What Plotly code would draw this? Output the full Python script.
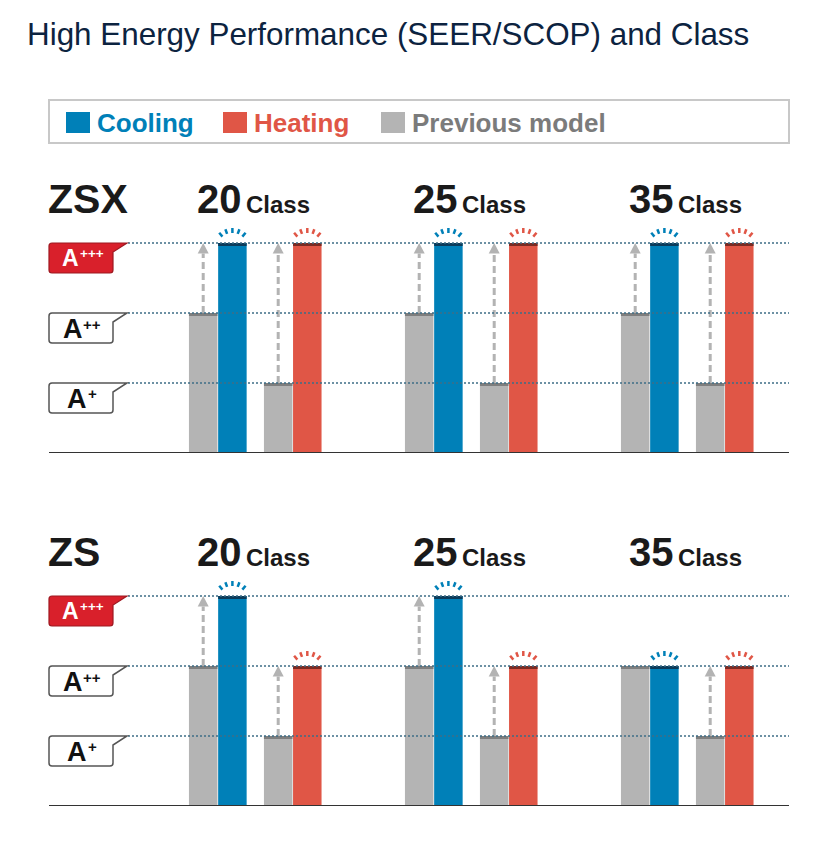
import math
import plotly.graph_objects as go

# ---------------- data ----------------
title_text = "High Energy Performance (SEER/SCOP) and Class"
legend_labels = ["Cooling", "Heating", "Previous model"]
models = ["ZSX", "ZS"]
classes = ["20", "25", "35"]
class_word = "Class"
level_labels = ["A+", "A++", "A+++"]
level_values = [1, 2, 3]

zsx_cool_prev = [2, 2, 2]
zsx_cool = [3, 3, 3]
zsx_heat_prev = [1, 1, 1]
zsx_heat = [3, 3, 3]

zs_cool_prev = [2, 2, 2]
zs_cool = [3, 3, 2]
zs_heat_prev = [1, 1, 1]
zs_heat = [2, 2, 2]

panels = [
    (zsx_cool_prev, zsx_cool, zsx_heat_prev, zsx_heat),
    (zs_cool_prev, zs_cool, zs_heat_prev, zs_heat),
]

# ---------------- style / layout ----------------
W, H = 818, 856
FONT = "Arial, 'Liberation Sans', Helvetica, sans-serif"
BLUE, RED, GRAY = "#0080b8", "#e05646", "#b4b4b4"
BLUE_CAP, RED_CAP, GRAY_CAP = "#0b3b5a", "#7a2b23", "#7e7e7e"
DOT = "#3e6e86"
ARROW = "#b3b3b3"
TITLE_C = "#0c2340"

PXX = 216.0         # px per x unit (group spacing)
X0 = 255.3          # px of first group centre
PXY = 70.0          # px per rating level
BASE_PX = [453, 806]
YMAX = 4.0
BW = 28.5 / PXX
CAP = 3.0 / PXY
OFF = [-52.1 / PXX, -22.9 / PXX, 22.9 / PXX, 52.0 / PXX]

# badge text placement per level (A x-centre, A size, A y-offset, plus left x, plus size, plus y-offset)
BADGE_TXT = {
    1: (76.5, 27, 15.8, 86.8, 15, 10.8),
    2: (72.6, 27, 16.0, 81.6, 15, 11.0),
    3: (70.6, 23, 15.3, 78.6, 13.5, 10.8),
}


def px_x(p):
    return p / W


def px_y(p):
    return 1 - p / H


fig = go.Figure()
shapes = []
annotations = []

yaxes = ["y", "y2"]
for pi, (cprev, cool, hprev, heat) in enumerate(panels):
    ya = yaxes[pi]
    series = [
        (cprev, OFF[0], GRAY, GRAY_CAP),
        (cool, OFF[1], BLUE, BLUE_CAP),
        (hprev, OFF[2], GRAY, GRAY_CAP),
        (heat, OFF[3], RED, RED_CAP),
    ]
    for vals, off, col, capc in series:
        xs = [g + off for g in range(len(classes))]
        fig.add_trace(go.Bar(x=xs, y=vals, width=BW, marker_color=col,
                             marker_line_width=0, xaxis="x", yaxis=ya,
                             showlegend=False, hoverinfo="skip"))
        fig.add_trace(go.Bar(x=xs, y=[CAP] * len(vals),
                             base=[v - CAP for v in vals], width=BW,
                             marker_color=capc, marker_line_width=0,
                             xaxis="x", yaxis=ya, showlegend=False,
                             hoverinfo="skip"))

    # dashed improvement arrows
    head_h = 10.5 / PXY
    head_w = 5.5 / PXX
    for prev, new, off in [(cprev, cool, OFF[0]), (hprev, heat, OFF[2])]:
        for g in range(len(classes)):
            if new[g] > prev[g]:
                xg = g + off
                fig.add_trace(go.Scatter(
                    x=[xg, xg], y=[prev[g], new[g] - head_h],
                    mode="lines", line=dict(color=ARROW, width=3, dash="7px,4px"),
                    xaxis="x", yaxis=ya, showlegend=False, hoverinfo="skip"))
                shapes.append(dict(
                    type="path", xref="x", yref=ya, layer="above",
                    path=f"M{xg - head_w},{new[g] - head_h} L{xg + head_w},{new[g] - head_h} L{xg},{new[g]} Z",
                    fillcolor=ARROW, line=dict(width=0)))

    # sparkles above new bars
    for vals, off, col in [(cool, OFF[1], BLUE), (heat, OFF[3], RED)]:
        for g in range(len(classes)):
            xc = g + off
            cy = vals[g] - 5.5 / PXY
            for ang in [-40, -20, 0, 20, 40]:
                t = math.radians(ang)
                r1, r2 = 15.5, 20.5
                shapes.append(dict(
                    type="line", xref="x", yref=ya, layer="above",
                    x0=xc + r1 * math.sin(t) / PXX, y0=cy + r1 * math.cos(t) / PXY,
                    x1=xc + r2 * math.sin(t) / PXX, y1=cy + r2 * math.cos(t) / PXY,
                    line=dict(color=col, width=2.5)))

    # dotted level lines and level badges
    for lab, lv in zip(level_labels, level_values):
        shapes.append(dict(type="line", xref="paper", yref=ya, layer="above",
                           x0=px_x(128), x1=px_x(789), y0=lv, y1=lv,
                           line=dict(color=DOT, width=1.6, dash="2px,2px")))
        top = lv

        def yy(d):
            return top - d / PXY
        r = 3
        path = (f"M{px_x(49 + r)},{yy(0)} L{px_x(127)},{yy(0)} L{px_x(113)},{yy(9)} "
                f"L{px_x(113)},{yy(30 - r)} Q{px_x(113)},{yy(30)} {px_x(113 - r)},{yy(30)} "
                f"L{px_x(49 + r)},{yy(30)} Q{px_x(49)},{yy(30)} {px_x(49)},{yy(30 - r)} "
                f"L{px_x(49)},{yy(r)} Q{px_x(49)},{yy(0)} {px_x(49 + r)},{yy(0)} Z")
        top_level = lv == max(level_values)
        shapes.append(dict(type="path", xref="paper", yref=ya, layer="above", path=path,
                           fillcolor="#d9202b" if top_level else "#ffffff",
                           line=dict(color="#9e1820" if top_level else "#555555",
                                     width=1.2 if top_level else 1.5)))
        ax, asz, ady, plx, psz, pdy = BADGE_TXT[lv]
        tcol = "#ffffff" if top_level else "#111111"
        annotations.append(dict(
            x=px_x(ax), y=yy(ady), xref="paper", yref=ya, text=lab[0],
            showarrow=False, xanchor="center", yanchor="middle", borderpad=0,
            font=dict(family=FONT, size=asz, color=tcol, weight="bold")))
        annotations.append(dict(
            x=px_x(plx), y=yy(pdy), xref="paper", yref=ya, text=lab[1:],
            showarrow=False, xanchor="left", yanchor="middle", borderpad=0,
            font=dict(family=FONT, size=psz, color=tcol, weight="bold")))

    # baseline
    shapes.append(dict(type="line", xref="paper", yref=ya, layer="above",
                       x0=px_x(49), x1=px_x(789), y0=0, y1=0,
                       line=dict(color="#333333", width=2)))

    # model label and class labels
    dy = BASE_PX[pi] - BASE_PX[0]
    annotations.append(dict(
        x=px_x(46), y=px_y(199 + dy), xref="paper", yref="paper", text=models[pi],
        showarrow=False, xanchor="left", yanchor="middle",
        font=dict(family=FONT, size=41, color="#1a1a1a", weight="bold")))
    for g, c in enumerate(classes):
        annotations.append(dict(
            x=g - 59.5 / PXX, y=px_y(199 + dy), xref="x", yref="paper", text=c,
            showarrow=False, xanchor="left", yanchor="middle", borderpad=0,
            font=dict(family=FONT, size=40, color="#1a1a1a", weight="bold")))
        annotations.append(dict(
            x=g - 10.5 / PXX, y=px_y(204.5 + dy), xref="x", yref="paper",
            text=class_word,
            showarrow=False, xanchor="left", yanchor="middle", borderpad=0,
            font=dict(family=FONT, size=24, color="#1a1a1a", weight="bold")))

# title
annotations.append(dict(
    x=px_x(25), y=px_y(34), xref="paper", yref="paper", text=title_text,
    showarrow=False, xanchor="left", yanchor="middle",
    font=dict(family=FONT, size=31.4, color=TITLE_C)))

# legend box
shapes.append(dict(type="rect", xref="paper", yref="paper",
                   x0=px_x(49), x1=px_x(789), y0=px_y(100), y1=px_y(143),
                   line=dict(color="#c8c8c8", width=2), fillcolor="rgba(0,0,0,0)"))
leg_cols = [BLUE, RED, GRAY]
leg_txt_cols = [BLUE, RED, "#7b7b7b"]
leg_sq_x = [66, 223, 381]
for lab, c, tc, sx in zip(legend_labels, leg_cols, leg_txt_cols, leg_sq_x):
    shapes.append(dict(type="rect", xref="paper", yref="paper",
                       x0=px_x(sx), x1=px_x(sx + 24), y0=px_y(112), y1=px_y(133),
                       line=dict(width=0), fillcolor=c))
    annotations.append(dict(
        x=px_x(sx + 29), y=px_y(122.5), xref="paper", yref="paper", text=lab,
        showarrow=False, xanchor="left", yanchor="middle",
        font=dict(family=FONT, size=26, color=tc, weight="bold")))

doms = []
for b in BASE_PX:
    doms.append([px_y(b), px_y(b - YMAX * PXY)])

fig.update_layout(
    width=W, height=H,
    margin=dict(l=0, r=0, t=0, b=0),
    paper_bgcolor="#ffffff", plot_bgcolor="rgba(0,0,0,0)",
    barmode="overlay", showlegend=False,
    xaxis=dict(range=[(0 - X0) / PXX, (W - X0) / PXX], domain=[0, 1],
               visible=False, fixedrange=True),
    yaxis=dict(range=[0, YMAX], domain=doms[0], visible=False, fixedrange=True),
    yaxis2=dict(range=[0, YMAX], domain=doms[1], visible=False, fixedrange=True,
                anchor="x"),
    shapes=shapes, annotations=annotations,
)

fig.write_html("out.html", config={"displayModeBar": False},
               post_script="document.body.style.margin='0';")
